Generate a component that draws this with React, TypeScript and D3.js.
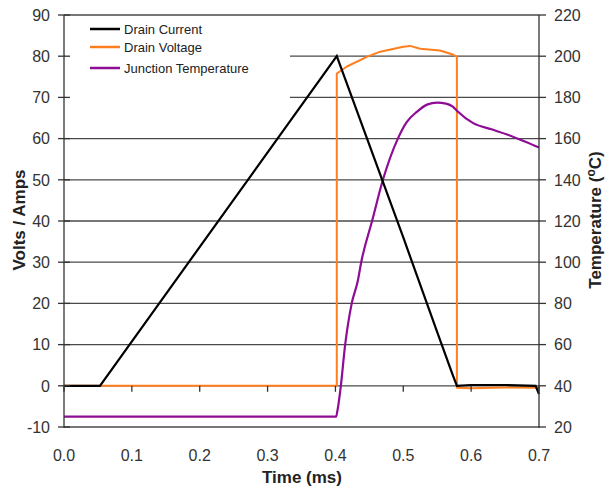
import React, { useEffect, useRef } from 'react'
import * as d3 from 'd3'

// time in ms
const currentT = [0, 0.053, 0.402, 0.45, 0.5, 0.55, 0.572, 0.579, 0.6, 0.65, 0.695, 0.7]
const currentA = [0, 0, 80, 58.5, 36, 13, 3, 0, 0.2, 0.2, 0, -2]

const voltageT = [0, 0.402, 0.402, 0.417, 0.447, 0.466, 0.5, 0.51, 0.525, 0.554, 0.573, 0.579, 0.579, 0.6, 0.65, 0.7]
const voltageV = [0, 0, 75.8, 77.5, 79.9, 81.1, 82.3, 82.5, 81.8, 81.4, 80.4, 79.9, -0.5, -0.6, -0.4, -0.5]

const tempT = [0, 0.401, 0.403, 0.408, 0.414, 0.424, 0.433, 0.438, 0.454, 0.47, 0.492, 0.505, 0.52, 0.535, 0.55, 0.563, 0.573, 0.579, 0.603, 0.63, 0.653, 0.68, 0.7]
const tempC = [25, 25, 28, 40, 59, 80, 91, 100, 120, 140, 160, 168, 173, 176.5, 177.5, 177, 175.5, 173.5, 167.5, 164.5, 162, 158.5, 155.7]

const xTicks = [0, 0.1, 0.2, 0.3, 0.4, 0.5, 0.6, 0.7]
const leftTicks = [-10, 0, 10, 20, 30, 40, 50, 60, 70, 80, 90]
const rightTicks = [20, 40, 60, 80, 100, 120, 140, 160, 180, 200, 220]

const seriesNames = ['Drain Current', 'Drain Voltage', 'Junction Temperature']
const seriesColors = ['#000000', '#ff7f1e', '#8e0c96']

function drawChart(el: SVGSVGElement) {
    const svg = d3.select(el)
    svg.selectAll('*').remove()

    const x = d3.scaleLinear().domain([0, 0.7]).range([64, 539])
    const yL = d3.scaleLinear().domain([-10, 90]).range([427, 15])
    const yR = d3.scaleLinear().domain([20, 220]).range([427, 15])
    const font = 'Liberation Sans, Arial, sans-serif'

    // gridlines
    svg.append('g').selectAll('line').data(leftTicks).join('line')
        .attr('x1', x(0)).attr('x2', x(0.7))
        .attr('y1', d => yL(d)).attr('y2', d => yL(d))
        .attr('stroke', '#4a4a4a').attr('stroke-width', 1.3)

    // legend box hides the gridlines behind it
    svg.append('rect').attr('x', x(0) + 1).attr('y', 16.5)
        .attr('width', 290 - x(0) - 1).attr('height', 100).attr('fill', 'white')

    const lineL = (ts: number[], vs: number[]) =>
        d3.line<number>().x((_, i) => x(ts[i])).y(d => yL(d))(vs)
    const lineR = d3.line<number>().x((_, i) => x(tempT[i])).y(d => yR(d))
        .curve(d3.curveMonotoneX)

    svg.append('path').attr('d', lineL(voltageT, voltageV))
        .attr('fill', 'none').attr('stroke', seriesColors[1]).attr('stroke-width', 2)
        .attr('stroke-linejoin', 'round')
    svg.append('path').attr('d', lineR(tempC))
        .attr('fill', 'none').attr('stroke', seriesColors[2]).attr('stroke-width', 2.2)
    svg.append('path').attr('d', lineL(currentT, currentA))
        .attr('fill', 'none').attr('stroke', seriesColors[0]).attr('stroke-width', 2.2)

    // axes
    const axisColor = '#333'
    svg.append('line').attr('x1', x(0)).attr('x2', x(0)).attr('y1', 15).attr('y2', 428)
        .attr('stroke', axisColor).attr('stroke-width', 1.3)
    svg.append('line').attr('x1', x(0.7)).attr('x2', x(0.7)).attr('y1', 15).attr('y2', 428)
        .attr('stroke', axisColor).attr('stroke-width', 1.3)

    svg.append('g').selectAll('line').data(leftTicks).join('line')
        .attr('x1', x(0) - 6).attr('x2', x(0) + 6)
        .attr('y1', d => yL(d)).attr('y2', d => yL(d))
        .attr('stroke', axisColor).attr('stroke-width', 1.3)
    svg.append('g').selectAll('line').data(rightTicks).join('line')
        .attr('x1', x(0.7)).attr('x2', x(0.7) + 7)
        .attr('y1', d => yR(d)).attr('y2', d => yR(d))
        .attr('stroke', axisColor).attr('stroke-width', 1.3)
    svg.append('g').selectAll('line').data(xTicks).join('line')
        .attr('x1', d => x(d)).attr('x2', d => x(d))
        .attr('y1', yL(0)).attr('y2', yL(0) + 6)
        .attr('stroke', axisColor).attr('stroke-width', 1.3)

    svg.append('g').selectAll('text').data(leftTicks).join('text')
        .attr('x', 50).attr('y', d => yL(d)).attr('dy', '0.36em')
        .attr('text-anchor', 'end').attr('font-family', font).attr('font-size', 16)
        .attr('fill', '#333').text(d => d)
    svg.append('g').selectAll('text').data(rightTicks).join('text')
        .attr('x', 554).attr('y', d => yR(d)).attr('dy', '0.36em')
        .attr('font-family', font).attr('font-size', 16)
        .attr('fill', '#333').text(d => d)
    svg.append('g').selectAll('text').data(xTicks).join('text')
        .attr('x', d => x(d)).attr('y', 461)
        .attr('text-anchor', 'middle').attr('font-family', font).attr('font-size', 16)
        .attr('fill', '#333').text(d => d.toFixed(1))

    // axis titles
    svg.append('text').attr('transform', 'translate(25,220) rotate(-90)')
        .attr('text-anchor', 'middle').attr('font-family', font).attr('font-size', 17)
        .attr('font-weight', 'bold').attr('fill', '#222').text('Volts / Amps')
    const rt = svg.append('text').attr('transform', 'translate(601,220) rotate(-90)')
        .attr('text-anchor', 'middle').attr('font-family', font).attr('font-size', 17)
        .attr('font-weight', 'bold').attr('fill', '#222')
    rt.append('tspan').text('Temperature (')
    rt.append('tspan').attr('font-size', 12).attr('dy', -6).text('o')
    rt.append('tspan').attr('dy', 6).text('C)')
    svg.append('text').attr('x', 302).attr('y', 483)
        .attr('text-anchor', 'middle').attr('font-family', font).attr('font-size', 17)
        .attr('font-weight', 'bold').attr('fill', '#222').text('Time (ms)')

    // legend
    const legendY = [29, 47, 68]
    const lg = svg.append('g').selectAll('g').data(seriesNames).join('g')
        .attr('transform', (_, i) => `translate(0,${legendY[i]})`)
    lg.append('line').attr('x1', 90).attr('x2', 120)
        .attr('stroke', (_, i) => seriesColors[i]).attr('stroke-width', 2.5)
    lg.append('text').attr('x', 124).attr('dy', '0.36em')
        .attr('font-family', font).attr('font-size', 13).attr('fill', '#222')
        .text(d => d)
}

const App = () => {
    const ref = useRef<SVGSVGElement>(null)
    useEffect(() => {
        if (ref.current) drawChart(ref.current)
    }, [])

    return (
        <div style={{ position: 'absolute', left: 0, top: 0 }}>
            <svg ref={ref} width={606} height={492} style={{ display: 'block', background: 'white' }}></svg>
        </div>
    )
}

export default App
